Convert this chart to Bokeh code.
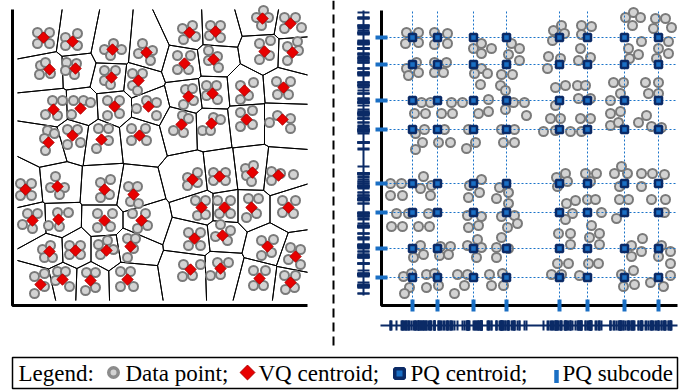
import numpy as np
from bokeh.plotting import figure
from bokeh.layouts import column, row
from bokeh.models import Range1d
from bokeh.core.properties import value
from bokeh.embed import file_html
from bokeh.resources import INLINE

# ---------------- data: left panel (VQ) ----------------
vq_x = [31, 60, 100, 134, 177, 203, 250, 278, 252, 280, 172, 201, 37, 63, 99, 126,
        176, 200, 232, 271, 41, 68, 102, 136, 169, 199, 234, 270, 36, 60, 89, 127,
        13, 45, 92, 121, 180, 207, 240, 266, 20, 46, 92, 129, 189, 212, 239, 276,
        37, 63, 94, 118, 182, 210, 255, 283, 28, 50, 78, 115, 178, 208, 247, 278]
vq_y = [268, 264, 256, 253, 273, 274, 287, 282, 254, 253, 242, 246, 236, 237, 228, 225,
        209, 212, 215, 218, 196, 197, 199, 199, 181, 182, 186, 186, 163, 170, 166, 170,
        116, 119, 116, 111, 126, 129, 133, 130, 85, 86, 85, 85, 98, 98, 98, 98,
        54, 55, 55, 59, 67, 70, 59, 49, 21, 26, 25, 26, 36, 37, 27, 23]
# data points of each VQ cell, as offsets from the centroid (dx, dy with dy measured downwards)
vq_offsets = [
    [(-6, -5), (6, -5), (-6, 6), (6, 6)], [(-7, -4), (5, -8), (-7, 4), (5, 4)],
    [(-8, 0), (1, -6), (9, 0), (-2, 6)], [(-4, -9), (-8, 1), (4, 8), (6, -2)],
    [(-7, -4), (3, -7), (-6, 7), (6, 4)], [(-5, -6), (5, -6), (-6, 4), (5, 6)],
    [(-6, -1), (1, -8), (6, -1), (-1, 7)], [(-6, -6), (5, -6), (-6, 5), (11, 4)],
    [(-5, -8), (6, -11), (-5, 8), (5, 4)], [(-5, -6), (5, -11), (-5, 8), (6, -2)],
    [(-7, -8), (6, -8), (-7, 6), (4, 6)], [(-5, -9), (-5, 1), (5, 8), (4, -3)],
    [(-9, -4), (-4, -7), (-10, 5), (1, 4)], [(-9, -6), (-10, 2), (1, -5), (-1, 6)],
    [(-7, -7), (4, -7), (-7, 3), (-1, 7)], [(-6, -7), (4, -7), (-6, 5), (-1, 10)],
    [(-3, -7), (4, -8), (-5, 8), (5, 4)], [(-6, -8), (4, -8), (-6, 2), (5, 6)],
    [(-4, -5), (9, -8), (-4, 9), (4, 5)], [(-7, -6), (7, -6), (-6, 7), (5, 7)],
    [(-1, -9), (9, -9), (-8, 5), (4, 6)], [(-7, -8), (3, -8), (-9, 6), (10, -6)],
    [(-7, -6), (5, -6), (-7, 9), (5, 7)], [(-12, 2), (-2, -6), (8, 9), (8, -4)],
    [(-8, 6), (1, -9), (7, -6), (2, 8)], [(-9, 7), (2, -6), (9, -4), (-1, 7)],
    [(-6, -7), (6, -9), (-6, 7), (6, 5)], [(-13, 3), (-5, -4), (8, 9), (8, -1)],
    [(-1, -12), (-3, 8), (6, -9), (-4, -4)], [(-5, -6), (5, -6), (-5, 9), (8, 7)],
    [(-3, -11), (7, -11), (-5, 9), (7, 1)], [(-8, -7), (6, -7), (-8, 5), (7, 5)],
    [(-5, -6), (6, -6), (-5, 6), (6, 6)], [(-2, -10), (-7, 1), (7, 1), (2, 8)],
    [(-4, -7), (6, -10), (-4, 8), (5, 5)], [(-5, -8), (4, -8), (-3, 7), (5, 9)],
    [(-5, -2), (5, -7), (-5, 6), (5, 3)], [(-6, -4), (6, -4), (-6, 4), (6, 4)],
    [(-7, -4), (1, -7), (-6, 3), (-1, 9)], [(-7, -4), (2, -2), (-7, 5), (15, -1)],
    [(-5, -7), (5, -7), (-10, 4), (0, 8)], [(-1, -7), (10, -7), (-10, 6), (1, 7)],
    [(-7, -7), (8, -7), (-7, 7), (6, 6)], [(-9, -7), (4, -7), (-4, 8), (6, 5)],
    [(-6, -7), (4, -7), (-4, 8), (4, 7)], [(-7, -7), (6, -7), (-5, 6), (6, 6)],
    [(-3, -9), (7, -9), (-5, 10), (5, 6)], [(-6, -7), (7, -7), (-6, 5), (5, 6)],
    [(-7, -2), (1, -6), (-5, 6), (3, 6)], [(-6, -5), (5, -5), (-6, 4), (5, 4)],
    [(-8, -6), (1, -10), (-6, 4), (7, -1)], [(-3, -8), (5, -8), (-3, 11), (3, 2)],
    [(-6, -6), (6, -6), (-6, 7), (6, 7)], [(-2, -11), (8, -5), (-7, 1), (5, 5)],
    [(-6, -6), (6, -7), (-6, 9), (4, 6)], [(-5, -9), (5, -7), (-7, 3), (5, 8)],
    [(-6, -8), (4, -11), (-6, 9), (4, 2)], [(-5, -8), (3, -8), (-7, 1), (7, 7)],
    [(-4, -8), (5, -8), (-5, 10), (5, 7)], [(-7, -8), (3, -8), (-7, 7), (6, 7)],
    [(-7, -5), (10, -5), (-8, 7), (2, 6)], [(-3, -6), (8, -6), (-10, 7), (0, 6)],
    [(-6, -8), (6, -8), (-6, 7), (4, 7)], [(-6, -7), (5, -7), (-5, 7), (4, 5)],
]
vq_bounds = (5, 295, 5, 296)          # extent of the Voronoi diagram
left_axis_len = (295, 296)            # x-axis length, y-axis length

# ---------------- data: right panel (PQ) ----------------
pq_sub_x = [31, 56, 92, 125, 178, 206, 243, 277]
pq_sub_y = [268, 241, 205, 176, 122, 93, 57, 28]
pq_points = [
    (25, 273), (37, 273), (24, 262), (37, 263), (53, 273), (66, 272), (53, 261), (66, 262),
    (100, 262), (110, 257), (92, 257), (100, 252), (130, 262), (138, 257), (127, 251), (138, 245),
    (25, 237), (35, 243), (27, 230), (37, 233), (53, 243), (65, 243), (53, 233), (62, 233),
    (100, 237), (106, 232), (93, 232), (99, 221), (120, 231), (131, 231), (119, 220), (124, 215),
    (40, 203), (49, 203), (33, 192), (44, 192), (60, 192), (70, 203), (71, 192), (81, 203),
    (97, 192), (107, 206), (107, 194), (132, 203), (143, 203), (124, 196), (145, 190),
    (34, 172), (43, 176), (41, 163), (34, 156), (63, 176), (57, 163), (69, 163),
    (87, 176), (94, 163), (85, 157), (120, 176), (133, 176), (122, 163), (133, 163),
    (172, 275), (180, 280), (183, 272), (171, 265), (200, 280), (210, 279), (200, 271),
    (244, 288), (252, 293), (259, 288), (251, 280), (274, 287), (284, 287), (290, 278), (272, 277),
    (167, 249), (166, 237), (179, 247), (199, 257), (197, 245), (209, 248),
    (247, 257), (260, 264), (257, 251), (248, 247), (277, 257), (287, 264), (287, 252), (275, 247),
    (174, 218), (184, 220), (174, 200), (196, 220), (204, 220), (197, 207), (209, 207),
    (232, 223), (242, 223), (239, 212), (229, 205), (229, 192), (239, 194),
    (264, 223), (277, 223), (267, 212), (277, 212),
    (169, 187), (179, 187), (162, 174), (174, 175), (189, 174), (199, 187), (209, 187), (200, 174),
    (229, 180), (237, 183), (257, 183), (265, 190), (270, 179), (280, 178),
    (9, 122), (20, 122), (9, 110), (21, 110), (42, 129), (39, 117), (50, 120), (49, 110),
    (88, 120), (100, 126), (98, 113), (87, 108), (118, 118), (127, 113), (115, 107), (127, 102),
    (15, 92), (27, 92), (10, 79), (21, 79), (37, 79), (47, 92), (48, 79),
    (86, 90), (100, 89), (97, 80), (87, 78), (120, 89), (133, 90), (136, 82), (126, 78),
    (39, 60), (32, 48), (42, 51), (59, 59), (69, 59), (58, 50), (67, 51),
    (86, 60), (96, 66), (100, 58), (95, 48), (115, 58), (120, 68), (115, 48), (127, 57),
    (22, 29), (30, 32), (28, 18), (23, 12), (45, 31), (53, 32), (45, 18), (57, 20),
    (76, 31), (86, 31), (83, 20), (73, 12), (108, 31), (121, 32), (110, 20), (122, 20),
    (175, 128), (184, 132), (186, 124), (176, 119), (204, 132), (215, 132), (209, 124),
    (233, 132), (240, 139), (246, 132), (238, 119), (260, 132), (271, 132), (283, 131), (260, 119),
    (185, 102), (194, 105), (191, 92), (184, 86), (206, 106), (214, 106), (220, 93), (210, 80),
    (238, 106), (247, 106), (235, 87), (270, 106), (284, 106), (283, 93),
    (177, 72), (189, 72), (189, 61), (208, 68), (218, 72), (218, 61),
    (250, 60), (261, 67), (260, 54), (250, 49), (280, 60), (289, 54), (277, 49), (289, 42),
    (176, 42), (187, 42), (170, 31), (180, 31), (207, 42), (217, 42), (198, 30),
    (240, 31), (252, 35), (242, 19), (253, 21), (269, 23), (282, 19), (289, 30),
]
right_axis_len = (296, 295)

legend_labels = ["Legend:", "Data point;", "VQ centroid;", "PQ centroid;", "PQ subcode"]

# ---------------- colours ----------------
PT_FILL, PT_LINE = "#d3d3d3", "#7a7a7a"
RED_FILL, RED_LINE = "#e80000", "#b00000"
NAVY, BLUE = "#0b2a66", "#1a6fc4"
GRID_BLUE = "#1a73c8"


def base_fig(w, h, xr, yr):
    p = figure(width=w, height=h, x_range=Range1d(*xr), y_range=Range1d(*yr),
               output_backend="svg", toolbar_location=None,
               x_axis_type=None, y_axis_type=None, min_border=0,
               outline_line_color=None, background_fill_color="white",
               border_fill_color="white")
    return p


# ---------------- Voronoi cells of the VQ centroids ----------------
def clip(poly, a, b, c):
    out = []
    n = len(poly)
    for k in range(n):
        P, Q = poly[k], poly[(k + 1) % n]
        fp = a * P[0] + b * P[1] - c
        fq = a * Q[0] + b * Q[1] - c
        if fp <= 0:
            out.append(P)
        if (fp < 0 < fq) or (fq < 0 < fp):
            t = fp / (fp - fq)
            out.append((P[0] + t * (Q[0] - P[0]), P[1] + t * (Q[1] - P[1])))
    return out


x0b, x1b, y0b, y1b = vq_bounds
seg_x0, seg_y0, seg_x1, seg_y1 = [], [], [], []
for i in range(len(vq_x)):
    poly = [(x0b, y0b), (x1b, y0b), (x1b, y1b), (x0b, y1b)]
    for j in range(len(vq_x)):
        if i == j:
            continue
        a = 2 * (vq_x[j] - vq_x[i])
        b = 2 * (vq_y[j] - vq_y[i])
        c = vq_x[j] ** 2 + vq_y[j] ** 2 - vq_x[i] ** 2 - vq_y[i] ** 2
        poly = clip(poly, a, b, c)
        if not poly:
            break
    for k in range(len(poly)):
        P, Q = poly[k], poly[(k + 1) % len(poly)]
        on_edge = any(abs(P[d] - v) < 1e-6 and abs(Q[d] - v) < 1e-6
                      for d, v in ((0, x0b), (0, x1b), (1, y0b), (1, y1b)))
        if on_edge:
            continue
        seg_x0.append(P[0]); seg_y0.append(P[1]); seg_x1.append(Q[0]); seg_y1.append(Q[1])

dp_x, dp_y = [], []
for cx, cy, offs in zip(vq_x, vq_y, vq_offsets):
    for dx, dy in offs:
        dp_x.append(cx + dx)
        dp_y.append(cy - dy)

# ---------------- left figure ----------------
L = base_fig(331, 352, (-12, 319), (-47, 305))
L.segment(seg_x0, seg_y0, seg_x1, seg_y1, line_color="black", line_width=1)
L.scatter(dp_x, dp_y, marker="circle", size=9, fill_color=PT_FILL,
          line_color=PT_LINE, line_width=2)
L.scatter(vq_x, vq_y, marker="square", angle=np.pi / 4, size=8,
          fill_color=RED_FILL, line_color=RED_LINE, line_width=1)
L.line([0, 0, left_axis_len[0]], [left_axis_len[1], 0, 0], line_color="black", line_width=3)

# ---------------- right figure ----------------
pq_x = [p[0] for p in pq_points]
pq_y = [p[1] for p in pq_points]
gx, gy = np.meshgrid(pq_sub_x, pq_sub_y)

R = base_fig(368, 352, (-50, 318), (-47, 305))
# separator between the two panels
R.line([-48, -48], [305, -45], line_color="black", line_width=2, line_dash="9 5")
# projections (rugs)
R.line([-18, -18], [10, 295], line_color=NAVY, line_width=2)
R.segment(x0=-24, y0=pq_y, x1=-12, y1=pq_y, line_color=NAVY, line_width=2)
R.line([-1, 296], [-20, -20], line_color=NAVY, line_width=2)
R.segment(x0=pq_x, y0=-25, x1=pq_x, y1=-15, line_color=NAVY, line_width=2)
# data points
R.scatter(pq_x, pq_y, marker="circle", size=9, fill_color=PT_FILL,
          line_color=PT_LINE, line_width=2)
# dotted subcode lines
R.segment(x0=0, y0=pq_sub_y, x1=right_axis_len[0], y1=pq_sub_y, line_color=GRID_BLUE,
          line_width=1, line_dash="2 2")
R.segment(x0=pq_sub_x, y0=0, x1=pq_sub_x, y1=right_axis_len[1], line_color=GRID_BLUE,
          line_width=1, line_dash="2 2")
# axes
R.line([0, 0, right_axis_len[0]], [right_axis_len[1], 0, 0], line_color="black", line_width=3)
# subcodes
R.rect(x=0, y=pq_sub_y, width=12, height=4, fill_color=BLUE, line_color=None)
R.rect(x=pq_sub_x, y=0, width=4, height=12, fill_color=BLUE, line_color=None)
# PQ centroids
R.scatter(gx.ravel(), gy.ravel(), marker="square", size=7, fill_color=BLUE,
          line_color=NAVY, line_width=2.5)

# ---------------- legend ----------------
G = base_fig(699, 38, (0, 699), (390, 352))
G.quad(left=12, right=677, top=357, bottom=388, fill_color=None, line_color="black", line_width=1.5)
G.text(x=[18, 125, 258, 410, 562], y=[373] * 5, text=legend_labels,
       text_font=value("Liberation Serif, Times New Roman, serif"), text_font_size="23px",
       text_baseline="alphabetic", text_color="black")
G.scatter([113], [372], marker="circle", size=9.5, fill_color=PT_FILL,
          line_color="#8c8c8c", line_width=3.5)
G.scatter([247], [372], marker="square", angle=np.pi / 4, size=10.5,
          fill_color=RED_FILL, line_color=RED_LINE, line_width=1)
G.scatter([399], [373], marker="square", size=9.5, fill_color=BLUE,
          line_color=NAVY, line_width=3.5)
G.rect(x=[556], y=[376], width=4.5, height=13, fill_color=BLUE, line_color=None)

layout = column(row(L, R), G)
open("out.html", "w").write(file_html(layout, INLINE))
